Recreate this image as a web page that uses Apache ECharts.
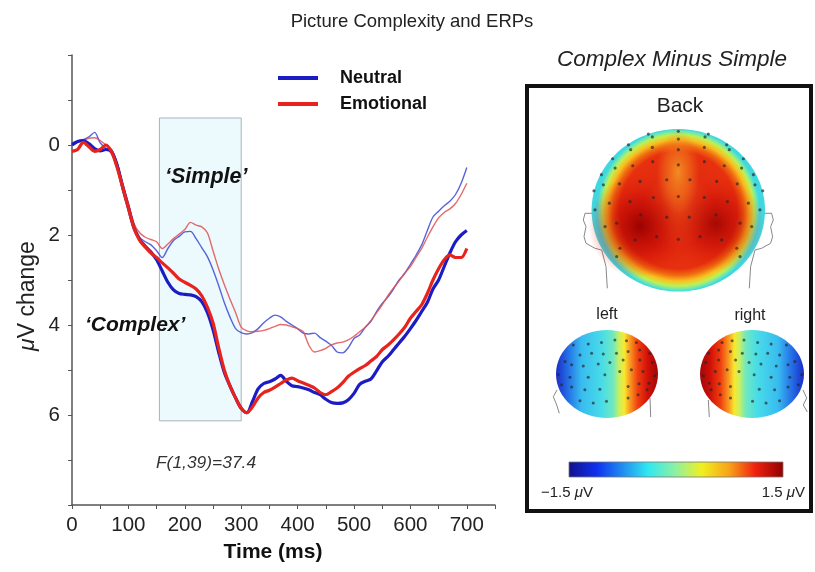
<!DOCTYPE html>
<html>
<head>
<meta charset="utf-8">
<script src="https://cdn.jsdelivr.net/npm/echarts@6/dist/echarts.min.js"></script>
<style>html,body{margin:0;padding:0;background:#fff;}#c{width:815px;height:572px;}</style>
</head>
<body>
<div id="c"></div>
<script>
const FONT = 'Liberation Sans, Arial, sans-serif';

const times = [0,10,20,30,40,50,60,70,80,90,100,110,120,130,140,150,160,170,180,190,200,210,220,230,240,250,260,270,280,290,300,310,320,330,340,350,360,370,380,390,400,410,420,430,440,450,460,470,480,490,500,510,520,530,540,550,560,570,580,590,600,610,620,630,640,650,660,670,680,690,700];

const neutralComplex = [0.0,-0.08,-0.1,-0.03,0.08,0.13,0.1,0.15,0.45,0.95,1.4,1.85,2.1,2.25,2.38,2.55,2.8,3.05,3.22,3.3,3.32,3.33,3.37,3.48,3.72,4.1,4.6,5.05,5.35,5.62,5.85,5.95,5.7,5.42,5.3,5.26,5.2,5.12,5.25,5.35,5.37,5.4,5.44,5.5,5.55,5.65,5.72,5.74,5.73,5.66,5.52,5.32,5.25,5.2,5.02,4.82,4.7,4.55,4.4,4.25,4.08,3.9,3.7,3.5,3.2,3.0,2.7,2.4,2.15,2.0,1.9];

const emotionalComplex = [0.14,0.1,-0.06,0.04,0.14,0.1,0.0,0.15,0.5,0.95,1.4,1.85,2.12,2.27,2.4,2.5,2.62,2.73,2.85,2.98,3.05,3.12,3.2,3.35,3.6,3.95,4.5,5.0,5.35,5.62,5.85,5.95,5.82,5.62,5.5,5.45,5.38,5.3,5.22,5.18,5.24,5.29,5.34,5.4,5.5,5.55,5.48,5.4,5.28,5.14,5.05,4.97,4.9,4.8,4.7,4.55,4.45,4.33,4.2,4.05,3.85,3.7,3.55,3.3,3.0,2.75,2.55,2.44,2.5,2.5,2.3];

const neutralSimple = [-0.05,-0.08,-0.12,-0.18,-0.28,-0.05,0.07,0.1,0.4,0.85,1.3,1.75,2.05,2.15,2.22,2.35,2.5,2.3,2.12,2.03,1.93,1.92,2.08,2.28,2.48,2.77,3.12,3.5,3.82,4.08,4.17,4.2,4.17,4.08,3.95,3.85,3.78,3.82,3.92,4.0,4.08,4.18,4.2,4.18,4.28,4.36,4.45,4.6,4.62,4.5,4.3,4.22,4.05,3.92,3.7,3.52,3.38,3.2,3.0,2.85,2.65,2.45,2.22,1.9,1.6,1.47,1.35,1.25,1.1,0.85,0.5];

const emotionalSimple = [-0.03,-0.06,-0.1,-0.15,-0.16,-0.1,0.0,0.1,0.4,0.85,1.3,1.75,1.95,2.05,2.1,2.15,2.3,2.2,2.08,1.98,1.88,1.72,1.78,1.82,1.95,2.35,2.75,3.1,3.42,3.72,4.05,4.13,4.15,4.14,4.12,4.08,4.03,3.99,4.0,4.04,4.08,4.15,4.45,4.6,4.57,4.52,4.44,4.4,4.38,4.33,4.25,4.15,4.05,3.9,3.73,3.55,3.35,3.18,3.02,2.85,2.7,2.5,2.3,2.05,1.82,1.62,1.5,1.42,1.3,1.1,0.85];

const windowStart = 155, windowEnd = 300, windowTop = -0.6, windowBottom = 6.13;
const xTickLabels = [0,100,200,300,400,500,600,700];
const yTickLabels = [0,2,4,6];

// electrode positions, percent of head bounding box
const backX = [50,50,50,50,50,50,32.7,35,65.4,67.3,21.2,22.5,77.9,79.4,35,65,12.1,13.5,87.5,86.5,23.7,35.2,65,76.5,5.6,6.7,93.3,94.2,16,27.9,43.3,56.7,72.1,84,1.3,10.2,22.1,35.6,65,78.3,90.4,98.7,1.9,14.4,28.3,43.3,56.3,71.7,85.6,97.1,7.7,25,37.5,62.5,75,92.3,16.3,83.7,14.4,85.6];
const backY = [1.4,6.2,12.7,22,41.5,67.8,3.1,4.9,4.9,3.1,9.7,12.7,9.7,12.7,11.3,11.3,18.3,24,18.3,24,22.6,20.1,20.1,22.6,28.1,34.3,28.1,34.3,33.7,32.2,31.2,31.2,32.2,33.7,38,45.6,44.6,42.1,42.1,44.6,45.6,38,49.7,57.9,52.8,54.2,54.2,52.8,57.9,49.7,60,68.2,66.1,66.1,68.2,60,73.3,73.3,78.4,78.4];
const sideX = [16.9,31.6,44.6,57.7,69.1,78.8,8.8,23.5,34.9,46.3,59.3,70.7,82.1,91.9,15.3,26.7,41.4,52.8,65.8,82.1,94.5,2.3,13.7,31.6,47.9,62.5,73.9,85.3,96.7,5.5,15.3,28.3,43,70.7,81.4,91.2,23.5,36.5,49.5,70.7,80.5,89.3];
const sideY = [17,15.8,14.3,11.3,12.1,14.3,35.8,28.3,26.4,27.2,26.4,24.5,22.6,26.4,39.6,40.8,38.5,37,34,34,37,50.9,53.6,53.6,50.9,47.2,45.3,47.2,52.1,62.3,64.9,67.9,67.2,64.2,61.1,60.4,80.4,83,81.1,77.4,73.6,67.9];

const pair = (xs, ys) => xs.map((x, i) => [x, ys[i]]);

const chart = echarts.init(document.getElementById('c'), null, {renderer: 'canvas'});

function hiddenAxis(gridIndex, inverse) {
  return {type: 'value', gridIndex, min: 0, max: 100, show: false, inverse: !!inverse};
}

const dotStyle = {color: 'rgba(40,40,40,0.85)'};

const gradBack = {type: 'radial', x: 0.5, y: 0.5, r: 0.5, colorStops: [
  {offset: 0, color: '#e8581a'}, {offset: 0.45, color: '#e22c10'}, {offset: 0.72, color: '#e6300e'},
  {offset: 0.8, color: '#f06a10'}, {offset: 0.87, color: '#f8c020'}, {offset: 0.93, color: '#c0f050'},
  {offset: 0.97, color: '#70e8b0'}, {offset: 1, color: '#40d8e0'}]};
const blob = (a) => ({type: 'radial', x: 0.5, y: 0.5, r: 0.5, colorStops: [
  {offset: 0, color: 'rgba(150,0,0,' + a + ')'}, {offset: 0.5, color: 'rgba(195,5,5,' + (a * 0.6) + ')'}, {offset: 1, color: 'rgba(225,30,10,0)'}]});
const orangeCol = {type: 'radial', x: 0.5, y: 0.5, r: 0.5, colorStops: [
  {offset: 0, color: 'rgba(245,150,35,0.9)'}, {offset: 0.6, color: 'rgba(245,130,30,0.45)'}, {offset: 1, color: 'rgba(240,110,25,0)'}]};
const sideStops = [
  {offset: 0, color: '#1c2cc8'}, {offset: 0.12, color: '#2470e6'}, {offset: 0.25, color: '#38bcf0'},
  {offset: 0.45, color: '#48dce8'}, {offset: 0.56, color: '#70e8c0'}, {offset: 0.62, color: '#c8f060'},
  {offset: 0.67, color: '#f8e830'}, {offset: 0.72, color: '#f8a020'}, {offset: 0.8, color: '#f04010'},
  {offset: 0.9, color: '#d01008'}, {offset: 1, color: '#a00808'}];
const gradLeft = {type: 'linear', x: 0, y: 0, x2: 1, y2: 0, colorStops: sideStops};
const gradRight = {type: 'linear', x: 1, y: 0, x2: 0, y2: 0, colorStops: sideStops};
const jet = {type: 'linear', x: 0, y: 0, x2: 1, y2: 0, colorStops: [
  {offset: 0, color: '#10108a'}, {offset: 0.13, color: '#1030f0'}, {offset: 0.37, color: '#30e8f0'},
  {offset: 0.5, color: '#90f0a0'}, {offset: 0.62, color: '#f0f020'}, {offset: 0.75, color: '#f8a018'},
  {offset: 0.87, color: '#f02010'}, {offset: 1, color: '#900000'}]};

const lineStroke = {stroke: '#888', lineWidth: 1, fill: null};

const option = {
  backgroundColor: '#fff',
  animation: false,
  title: {text: 'Picture Complexity and ERPs', left: 407, top: 7, textAlign: 'center',
    textStyle: {fontFamily: FONT, fontSize: 18.5, fontWeight: 'normal', color: '#222'}},
  legend: {data: ['Neutral', 'Emotional'], orient: 'vertical', left: 278, top: 68, padding: 0,
    icon: 'rect', itemWidth: 40, itemHeight: 4, itemGap: 6,
    textStyle: {fontFamily: FONT, fontSize: 18, fontWeight: 'bold', color: '#111', lineHeight: 20, padding: [0, 0, 0, 17]}},
  grid: [
    {left: 72, right: 320, top: 55, bottom: 67},
    {left: 591.7, top: 129, width: 173.3, height: 162.7},
    {left: 556, top: 330, width: 102, height: 88},
    {left: 700, top: 330, width: 104, height: 88}
  ],
  xAxis: [
    {type: 'value', gridIndex: 0, min: 0, max: 750, interval: 50,
      axisLine: {show: true, onZero: false, lineStyle: {color: '#555', width: 1.5}},
      axisTick: {show: true, length: 4, lineStyle: {color: '#555'}},
      splitLine: {show: false},
      axisLabel: {margin: 10, fontFamily: FONT, fontSize: 20.5, color: '#222',
        formatter: v => xTickLabels.indexOf(v) >= 0 ? String(v) : ''}},
    hiddenAxis(1), hiddenAxis(2), hiddenAxis(3, true)
  ],
  yAxis: [
    {type: 'value', gridIndex: 0, min: -2, max: 8, interval: 1, inverse: true,
      axisLine: {show: true, onZero: false, lineStyle: {color: '#555', width: 1.5}},
      axisTick: {show: true, length: 4, lineStyle: {color: '#555'}},
      splitLine: {show: false},
      axisLabel: {margin: 12, fontFamily: FONT, fontSize: 20.5, color: '#222',
        formatter: v => yTickLabels.indexOf(v) >= 0 ? String(v) : ''}},
    hiddenAxis(1, true), hiddenAxis(2, true), hiddenAxis(3, true)
  ],
  series: [
    {name: 'window', type: 'line', xAxisIndex: 0, yAxisIndex: 0, z: 1, data: [], silent: true,
      markArea: {silent: true, itemStyle: {color: '#ecf9fd', borderColor: '#a8b4ba', borderWidth: 1},
        data: [[{xAxis: windowStart, yAxis: windowTop}, {xAxis: windowEnd, yAxis: windowBottom}]]}},
    {name: 'Neutral (simple)', type: 'line', z: 3, showSymbol: false, smooth: 0.3,
      lineStyle: {color: 'rgba(60,72,210,0.85)', width: 1.4}, itemStyle: {color: '#4a58d0'},
      data: pair(times, neutralSimple)},
    {name: 'Emotional (simple)', type: 'line', z: 3, showSymbol: false, smooth: 0.3,
      lineStyle: {color: 'rgba(225,80,80,0.85)', width: 1.4}, itemStyle: {color: '#e06060'},
      data: pair(times, emotionalSimple)},
    {name: 'Neutral', type: 'line', z: 4, showSymbol: false, smooth: 0.3,
      lineStyle: {color: '#1c1cc4', width: 3.2}, itemStyle: {color: '#1c1cc4'},
      data: pair(times, neutralComplex)},
    {name: 'Emotional', type: 'line', z: 5, showSymbol: false, smooth: 0.3,
      lineStyle: {color: '#e8221c', width: 3.2}, itemStyle: {color: '#e8221c'},
      data: pair(times, emotionalComplex)},
    {name: 'back electrodes', type: 'scatter', xAxisIndex: 1, yAxisIndex: 1, z: 10, symbolSize: 3.2,
      itemStyle: dotStyle, data: pair(backX, backY), silent: true},
    {name: 'left electrodes', type: 'scatter', xAxisIndex: 2, yAxisIndex: 2, z: 10, symbolSize: 3,
      itemStyle: dotStyle, data: pair(sideX, sideY), silent: true},
    {name: 'right electrodes', type: 'scatter', xAxisIndex: 3, yAxisIndex: 3, z: 10, symbolSize: 3,
      itemStyle: dotStyle, data: pair(sideX, sideY), silent: true}
  ],
  graphic: [
    // left panel texts
    {type: 'text', x: 28, y: 296, rotation: Math.PI / 2, z: 5,
      style: {text: '{i|μ}V change', fontFamily: FONT, fontSize: 23, fill: '#222', align: 'center', verticalAlign: 'middle',
        rich: {i: {fontStyle: 'italic', fontFamily: FONT, fontSize: 23, fill: '#222'}}}},
    {type: 'text', x: 273, y: 552, z: 5,
      style: {text: 'Time (ms)', fontFamily: FONT, fontSize: 21, fontWeight: 'bold', fill: '#111', align: 'center', verticalAlign: 'middle'}},
    {type: 'text', x: 165, y: 177, z: 6,
      style: {text: '‘Simple’', fontFamily: FONT, fontSize: 21.5, fontWeight: 'bold', fontStyle: 'italic', fill: '#111', align: 'left', verticalAlign: 'middle'}},
    {type: 'text', x: 85, y: 325, z: 6,
      style: {text: '‘Complex’', fontFamily: FONT, fontSize: 21, fontWeight: 'bold', fontStyle: 'italic', fill: '#111', align: 'left', verticalAlign: 'middle'}},
    {type: 'text', x: 156, y: 463, z: 6,
      style: {text: 'F(1,39)=37.4', fontFamily: FONT, fontSize: 17.4, fontStyle: 'italic', fill: '#333', align: 'left', verticalAlign: 'middle'}},
    // right panel
    {type: 'text', x: 672, y: 60, z: 5,
      style: {text: 'Complex Minus Simple', fontFamily: FONT, fontSize: 22.5, fontStyle: 'italic', fill: '#222', align: 'center', verticalAlign: 'middle'}},
    {type: 'rect', z: 1, shape: {x: 527, y: 86, width: 284, height: 425},
      style: {fill: '#fff', stroke: '#111', lineWidth: 4}},
    {type: 'text', x: 680, y: 106, z: 5,
      style: {text: 'Back', fontFamily: FONT, fontSize: 21, fill: '#222', align: 'center', verticalAlign: 'middle'}},
    // back head ears & neck
    {type: 'polyline', z: 2, shape: {points: [[601.7,213.3],[585,213.3],[583.3,220],[586,226.7],[584,236.7],[586,243.3],[595,248.3],[601.7,250],[606,266.7],[607.3,288.3]]}, style: lineStroke},
    {type: 'polyline', z: 2, shape: {points: [[755,213.3],[771.6,213.3],[773.3,220],[770.6,226.7],[772.6,236.7],[770.6,243.3],[761.6,248.3],[755,250],[750.6,266.7],[749.3,288.3]]}, style: lineStroke},
    {type: 'ellipse', z: 3, shape: {cx: 678.3, cy: 210.3, rx: 86.7, ry: 81.3}, style: {fill: gradBack}},
    {type: 'circle', z: 4, shape: {cx: 640, cy: 226, r: 52}, style: {fill: blob(0.95)}},
    {type: 'circle', z: 4, shape: {cx: 716, cy: 224, r: 48}, style: {fill: blob(0.8)}},
    {type: 'circle', z: 4, x: 678, y: 172, scaleX: 1, scaleY: 1.9, shape: {cx: 0, cy: 0, r: 22}, style: {fill: orangeCol}},
    // side heads
    {type: 'text', x: 607, y: 315, z: 5,
      style: {text: 'left', fontFamily: FONT, fontSize: 16, fill: '#222', align: 'center', verticalAlign: 'middle'}},
    {type: 'text', x: 750, y: 316, z: 5,
      style: {text: 'right', fontFamily: FONT, fontSize: 16, fill: '#222', align: 'center', verticalAlign: 'middle'}},
    {type: 'polyline', z: 2, shape: {points: [[557,390],[553.3,396.7],[556.7,405],[559.3,413.3]]}, style: lineStroke},
    {type: 'polyline', z: 2, shape: {points: [[650,398],[650.7,417]]}, style: lineStroke},
    {type: 'ellipse', z: 3, shape: {cx: 607, cy: 374, rx: 51, ry: 44}, style: {fill: gradLeft}},
    {type: 'polyline', z: 2, shape: {points: [[803,390],[806.7,398],[803.3,405],[807.3,412]]}, style: lineStroke},
    {type: 'polyline', z: 2, shape: {points: [[708.3,400],[709.3,417]]}, style: lineStroke},
    {type: 'ellipse', z: 3, shape: {cx: 752, cy: 374, rx: 52, ry: 44}, style: {fill: gradRight}},
    // colour bar
    {type: 'rect', z: 3, shape: {x: 569, y: 462, width: 214, height: 15}, style: {fill: jet, stroke: '#777', lineWidth: 0.8}},
    {type: 'text', x: 541, y: 493, z: 5,
      style: {text: '−1.5 {i|μ}V', fontFamily: FONT, fontSize: 15, fill: '#222', align: 'left', verticalAlign: 'middle',
        rich: {i: {fontStyle: 'italic', fontFamily: FONT, fontSize: 15, fill: '#222'}}}},
    {type: 'text', x: 805, y: 493, z: 5,
      style: {text: '1.5 {i|μ}V', fontFamily: FONT, fontSize: 15, fill: '#222', align: 'right', verticalAlign: 'middle',
        rich: {i: {fontStyle: 'italic', fontFamily: FONT, fontSize: 15, fill: '#222'}}}}
  ]
};

chart.setOption(option);
</script>
</body>
</html>
